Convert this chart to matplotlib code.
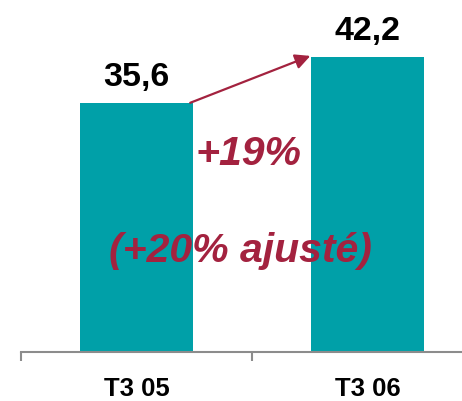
import matplotlib
matplotlib.use('Agg')
import matplotlib.pyplot as plt

# Data
categories = ['T3 05', 'T3 06']
values = [35.6, 42.2]
value_labels = ['35,6', '42,2']
growth_text = '+19%'
adjusted_text = '(+20% ajusté)'

teal = '#00A0A8'
crimson = '#A3223F'
grey = '#8C8C8C'
font = 'Liberation Sans'

fig = plt.figure(figsize=(4.62, 4.02), dpi=100)
ax = fig.add_axes([21 / 462, 49 / 402, 441 / 462, 353 / 402])

x = list(range(len(categories)))
bar_w = 0.485
ax.bar(x, values, width=bar_w, color=teal, zorder=2)

# value labels above bars
for xi, v, lab in zip(x, values, value_labels):
    ax.annotate(lab, (xi, v), xytext=(0, 13), textcoords='offset points',
                ha='center', va='baseline', fontsize=24.5, fontweight='bold',
                family=font, color='black')

# growth arrow
ax.annotate('', xy=(1 - bar_w / 2 - 0.005, values[1] + 0.1),
            xytext=(bar_w / 2 - 0.01, values[0]),
            arrowprops=dict(arrowstyle='-|>,head_length=0.9,head_width=0.45',
                            color=crimson, lw=1.6, shrinkA=0, shrinkB=0))

ax.text(0.483, 28.4, growth_text, ha='center', va='center', fontsize=29.5,
        fontweight='bold', fontstyle='italic', family=font, color=crimson)
ax.text(0.448, 14.6, adjusted_text, ha='center', va='center', fontsize=29.5,
        fontweight='bold', fontstyle='italic', family=font, color=crimson)

# axes styling
for s in ['top', 'right', 'left']:
    ax.spines[s].set_visible(False)
ax.spines['bottom'].set_color(grey)
ax.spines['bottom'].set_linewidth(1.5)
ax.set_yticks([])
ax.set_xticks(x)
ax.set_xticklabels(categories, fontsize=18.5, fontweight='bold', family=font)
ax.tick_params(axis='x', which='major', length=0, pad=17.5)
ax.set_xticks([-0.5, 0.5], minor=True)
ax.tick_params(axis='x', which='minor', length=6.5, width=1.5, color=grey)

# limits set last so the tick calls don't widen them
ax.set_xlim(-0.5, -0.5 + 441 / 231)
ax.set_ylim(0, 353 / 7)

fig.savefig('out.png', dpi=100)
